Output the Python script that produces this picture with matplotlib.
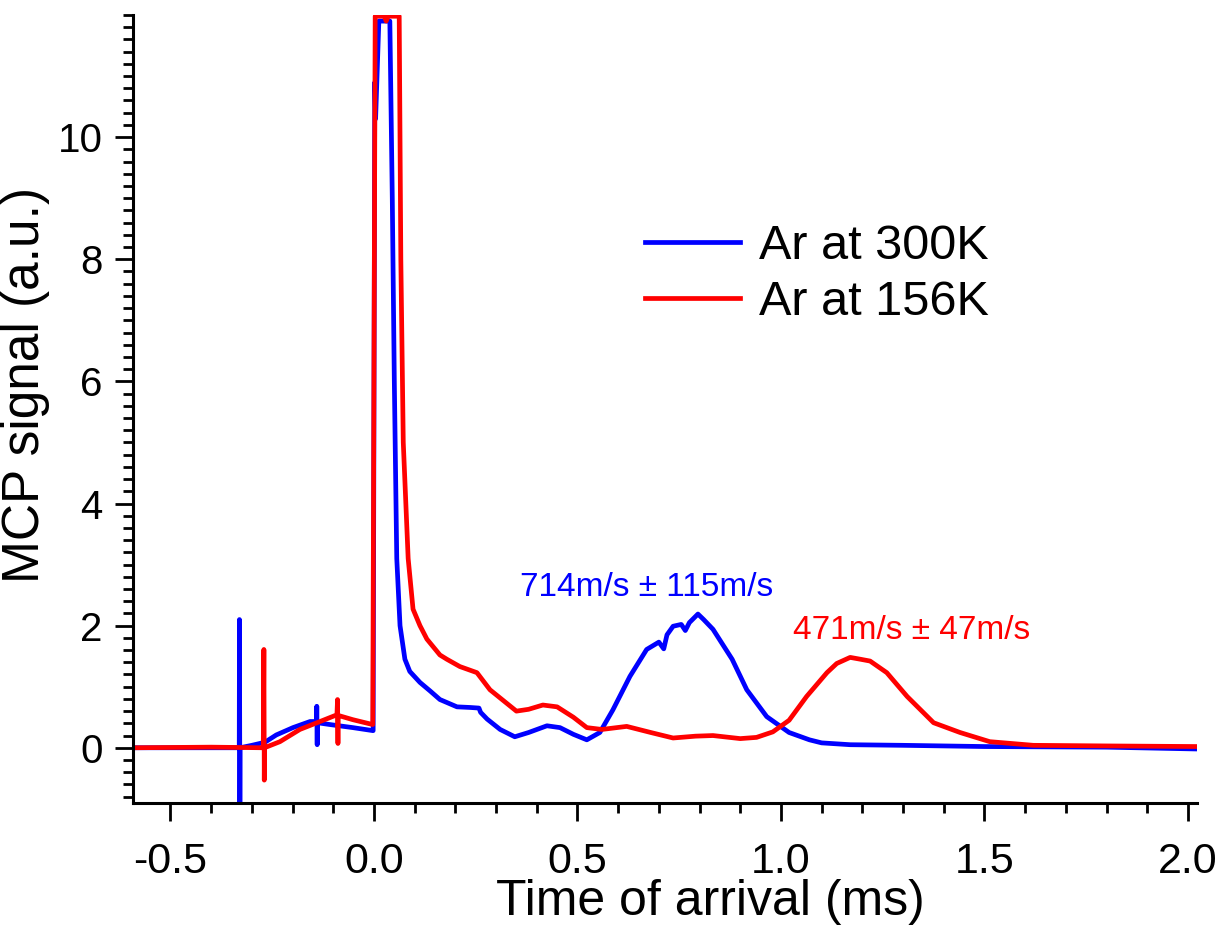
import numpy as np
import matplotlib
matplotlib.use("Agg")
import matplotlib.pyplot as plt
from matplotlib.ticker import MultipleLocator

plt.rcParams['font.family'] = ['Liberation Sans', 'DejaVu Sans']

# Ar at 300K : time (ms), MCP signal (a.u.)
t_300 = [-0.592, -0.45, -0.331, -0.3305, -0.3295, -0.329, -0.30, -0.268, -0.24,
         -0.199, -0.157, -0.141, -0.1405, -0.1395, -0.139, -0.108, -0.052, -0.002,
         0.002, 0.004, 0.012, 0.039, 0.045, 0.050, 0.056, 0.064, 0.076, 0.088,
         0.113, 0.138, 0.162, 0.204, 0.236, 0.258, 0.262, 0.278, 0.31, 0.346,
         0.38, 0.425, 0.457, 0.49, 0.523, 0.555, 0.587, 0.629, 0.67, 0.70, 0.712,
         0.72, 0.735, 0.755, 0.765, 0.775, 0.796, 0.81, 0.833, 0.88, 0.916,
         0.965, 1.02, 1.07, 1.10, 1.17, 1.30, 1.50, 1.80, 2.022]
v_300 = [0.0, 0.0, 0.0, 2.1, -1.0, 0.0, 0.04, 0.09, 0.21,
         0.33, 0.43, 0.43, 0.68, 0.05, 0.41, 0.38, 0.33, 0.28,
         10.9, 10.3, 11.9, 11.9, 9.0, 6.0, 3.1, 2.0, 1.45, 1.25,
         1.07, 0.93, 0.79, 0.67, 0.66, 0.65, 0.58, 0.47, 0.30, 0.18,
         0.25, 0.36, 0.33, 0.22, 0.13, 0.25, 0.62, 1.17, 1.61, 1.73, 1.62,
         1.85, 1.99, 2.02, 1.92, 2.05, 2.19, 2.10, 1.94, 1.45, 0.95,
         0.51, 0.25, 0.13, 0.08, 0.05, 0.04, 0.02, 0.01, -0.02]

# Ar at 156K
t_156 = [-0.592, -0.40, -0.272, -0.2705, -0.2695, -0.269, -0.231, -0.182, -0.14,
         -0.091, -0.0895, -0.0885, -0.088, -0.052, -0.003, 0.003, 0.025, 0.030,
         0.035, 0.062, 0.066, 0.072, 0.084, 0.096, 0.113, 0.13, 0.162, 0.179,
         0.211, 0.253, 0.285, 0.35, 0.38, 0.415, 0.45, 0.49, 0.523, 0.56, 0.621,
         0.68, 0.735, 0.79, 0.833, 0.90, 0.94, 0.98, 1.02, 1.063, 1.113, 1.137,
         1.17, 1.195, 1.219, 1.26, 1.31, 1.375, 1.44, 1.513, 1.62, 1.80, 2.022]
v_156 = [0.0, 0.01, 0.0, 1.61, -0.53, 0.0, 0.10, 0.30, 0.41,
         0.54, 0.79, 0.07, 0.53, 0.46, 0.38, 11.98, 11.98, 11.9,
         11.98, 11.98, 8.0, 5.0, 3.1, 2.27, 2.0, 1.78, 1.52, 1.45,
         1.33, 1.23, 0.95, 0.60, 0.63, 0.70, 0.67, 0.50, 0.33, 0.30, 0.35,
         0.25, 0.16, 0.19, 0.20, 0.15, 0.17, 0.26, 0.45, 0.84, 1.23, 1.38,
         1.48, 1.45, 1.42, 1.23, 0.84, 0.41, 0.25, 0.10, 0.04, 0.03, 0.02]

fig = plt.figure(figsize=(12.16, 9.26), dpi=100)
ax = fig.add_axes([0.1094, 0.1328, 0.8749, 0.851])

ax.plot(t_300, v_300, color='#0000ff', lw=3.4, label='Ar at 300K')
ax.plot(t_156, v_156, color='#ff0000', lw=3.4, label='Ar at 156K')

ax.set_xlim(-0.592, 2.022)
ax.set_ylim(-0.905, 12.0)

ax.set_xticks([-0.5, 0.0, 0.5, 1.0, 1.5, 2.0])
ax.set_xticklabels(['-0.5', '0.0', '0.5', '1.0', '1.5', '2.0'])
ax.xaxis.set_minor_locator(MultipleLocator(0.1))
ax.set_yticks([0, 2, 4, 6, 8, 10])
ax.yaxis.set_minor_locator(MultipleLocator(0.2))

for s in ['top', 'right']:
    ax.spines[s].set_visible(False)
for s in ['left', 'bottom']:
    ax.spines[s].set_linewidth(2.2)

ax.tick_params(which='major', direction='out', length=13, width=2.0,
               labelsize=29, pad=9)
ax.tick_params(axis='x', which='major', labelsize=31, pad=15)
ax.tick_params(which='minor', direction='out', length=7, width=2.0)

ax.set_xlabel('Time of arrival (ms)', fontsize=36)
ax.xaxis.set_label_coords(0.543, -0.097)
ax.set_ylabel('MCP signal (a.u.)', fontsize=37)
ax.yaxis.set_label_coords(-0.078, 0.53)

ax.text(0.671, 2.48, '714m/s \u00b1 115m/s', color='#0000ff', fontsize=24,
        ha='center', va='baseline')
ax.text(1.322, 1.78, '471m/s \u00b1 47m/s', color='#ff0000', fontsize=24,
        ha='center', va='baseline')

ax.legend(loc='upper left', bbox_to_anchor=(645 / 1216, 1 - 224 / 926),
          bbox_transform=fig.transFigure, frameon=False, fontsize=35,
          handlelength=1.95, handletextpad=0.4, labelspacing=0.22,
          borderpad=0, borderaxespad=0)

plt.savefig('out.png', dpi=100)
